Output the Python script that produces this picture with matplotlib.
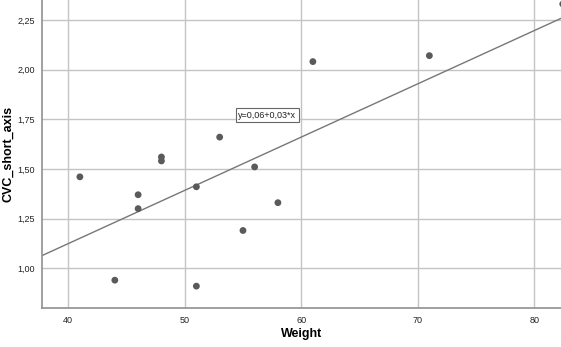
import numpy as np
import matplotlib
matplotlib.use('Agg')
import matplotlib.pyplot as plt
from matplotlib.ticker import FuncFormatter

plt.rcParams['font.family'] = ['Liberation Sans', 'DejaVu Sans']

# data
weight = [41, 44, 46, 46, 48, 48, 51, 51, 53, 55, 56, 58, 61, 71, 82.45]
cvc = [1.46, 0.94, 1.37, 1.30, 1.56, 1.54, 1.41, 0.91, 1.66, 1.19, 1.51, 1.33, 2.04, 2.07, 2.33]

# fit line as drawn
intercept = 0.052
slope = 0.0268
fit_label = 'y=0,06+0,03*x'

xticks = [40, 50, 60, 70, 80]
yticks = [1.00, 1.25, 1.50, 1.75, 2.00, 2.25]

fig = plt.figure(figsize=(5.61, 3.47), dpi=100)
ax = fig.add_axes([0.0749, 0.1124, 0.9251, 0.8876])

ax.set_xlim(37.75, 82.3)
ax.set_ylim(0.80, 2.35)

ax.grid(True, color='#c4c4c4', linewidth=1.0)
ax.set_axisbelow(True)

xl = np.array(ax.get_xlim())
ax.plot(xl, intercept + slope * xl, color='#777777', linewidth=1.0, zorder=2)

ax.scatter(weight, cvc, s=24, color='#5a5a5a', edgecolors='none', zorder=3)

ax.text(54.6, 1.77, fit_label, fontsize=6.5, va='center', ha='left', color='#222222',
        bbox=dict(boxstyle='square,pad=0.25', facecolor='white', edgecolor='#666666', linewidth=0.8),
        zorder=4)

ax.set_xticks(xticks)
ax.set_yticks(yticks)
ax.yaxis.set_major_formatter(FuncFormatter(lambda v, p: ('%.2f' % v).replace('.', ',')))
ax.tick_params(length=0, labelsize=6.5, colors='#222222')
ax.tick_params(axis='x', pad=6)
ax.tick_params(axis='y', pad=5)

for s in ['top', 'right']:
    ax.spines[s].set_visible(False)
for s in ['left', 'bottom']:
    ax.spines[s].set_color('#909090')
    ax.spines[s].set_linewidth(1.2)

ax.set_xlabel('Weight', fontsize=9, fontweight='bold', va='center')
ax.set_ylabel('CVC_short_axis', fontsize=9, fontweight='bold', va='center')
ax.xaxis.set_label_coords((302 - 42) / 519, -26 / 308)
ax.yaxis.set_label_coords(-34 / 519, 0.5)

fig.savefig('out.png', dpi=100)
